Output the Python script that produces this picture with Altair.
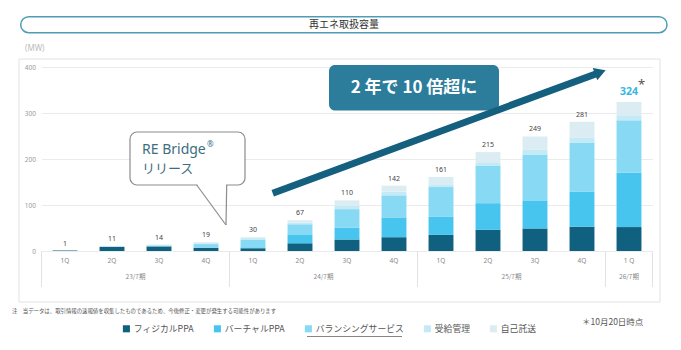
import altair as alt
import pandas as pd
import math

# ---------------- data ----------------
periods = ["23/7-1Q", "23/7-2Q", "23/7-3Q", "23/7-4Q",
           "24/7-1Q", "24/7-2Q", "24/7-3Q", "24/7-4Q",
           "25/7-1Q", "25/7-2Q", "25/7-3Q", "25/7-4Q",
           "26/7-1Q"]
quarter_labels = ["1Q", "2Q", "3Q", "4Q", "1Q", "2Q", "3Q", "4Q",
                  "1Q", "2Q", "3Q", "4Q", "1 Q"]
year_groups = ["23/7期", "24/7期", "25/7期", "26/7期"]
year_sizes = [4, 4, 4, 1]

series = ["フィジカルPPA", "バーチャルPPA", "バランシングサービス", "受給管理", "自己託送"]
colors = ["#10607f", "#47c5ee", "#87d9f4", "#c6eaf5", "#dbedf2"]

physical  = [1, 9, 10, 7, 6, 17, 25, 30, 35, 46, 49, 53, 52]
virtual   = [0, 0, 0, 0, 2, 18, 26, 43, 40, 58, 61, 76, 118]
balancing = [0, 1, 2, 8, 17, 23, 40, 48, 64, 82, 100, 107, 114]
juju      = [0, 0, 1, 2, 3, 4, 7, 8, 6, 7, 11, 11, 11]
selfcons  = [0, 1, 1, 2, 2, 5, 12, 13, 16, 22, 28, 34, 29]
totals    = [1, 11, 14, 19, 30, 67, 110, 142, 161, 215, 249, 281, 324]

# ---------------- layout ----------------
W, H = 611, 184
OX, OY = 41.5, 67
STEP = W / len(periods)
JP = "Noto Sans CJK JP"


def px(x):
    return x - OX


def py(y):
    return y - OY


rows = []
for vals, name, k in zip([physical, virtual, balancing, juju, selfcons], series, range(5)):
    for p, v in zip(periods, vals):
        rows.append({"period": p, "series": name, "order": k, "value": v})
df = pd.DataFrame(rows)
tot_df = pd.DataFrame({"period": periods, "total": totals})
q_df = pd.DataFrame({"period": periods, "q": quarter_labels})

xenc = alt.X("period:N", sort=periods,
             scale=alt.Scale(paddingInner=0.47, paddingOuter=0.235), axis=None)

one = alt.Chart(pd.DataFrame({"d": [0]}))


def rect(x1, y1, x2, y2, **kw):
    return one.mark_rect(**kw).encode(
        x=alt.value(px(x1)), x2=alt.value(px(x2)),
        y=alt.value(py(y1)), y2=alt.value(py(y2)))


def rule(x1, y1, x2, y2, **kw):
    return one.mark_rule(**kw).encode(
        x=alt.value(px(x1)), x2=alt.value(px(x2)),
        y=alt.value(py(y1)), y2=alt.value(py(y2)))


def text(t, x, y, **kw):
    return one.mark_text(**kw).encode(
        x=alt.value(px(x)), y=alt.value(py(y)), text=alt.value(t))


layers = []
# outer chart frame
layers.append(rect(19, 59, 660, 302, fillOpacity=0, stroke="#e2e2e2", strokeWidth=1))
# title box
layers.append(rect(20.7, 16.7, 667, 32.7, fill="white", stroke="#4f9cb6",
                   strokeWidth=1.5, cornerRadius=8))
layers.append(text("再エネ取扱容量", 344, 25, font=JP, fontSize=10, color="#333",
                   align="center", baseline="middle"))
layers.append(text("(MW)", 25, 49, font="Noto Sans", fontSize=8, color="#bbb",
                   align="left", baseline="middle"))

# bars
bars = alt.Chart(df).mark_bar().encode(
    x=xenc,
    y=alt.Y("value:Q", stack="zero",
            scale=alt.Scale(domain=[0, 400], nice=False),
            axis=alt.Axis(values=list(range(0, 401, 50)), labelFontSize=6.5,
                          labelColor="#9a9a9a", labelFont="Noto Sans",
                          domain=False, ticks=False, gridColor="#e6e6e6",
                          gridWidth=0.8, labelPadding=6, title=None)),
    color=alt.Color("series:N", sort=series,
                    scale=alt.Scale(domain=series, range=colors),
                    legend=alt.Legend(orient="none", legendX=px(122), legendY=py(324),
                                      direction="horizontal", title=None,
                                      symbolType="square", symbolSize=50,
                                      symbolStrokeWidth=0, labelFontSize=8.8,
                                      labelFont=JP, labelColor="#555",
                                      columnPadding=19, labelOffset=3)),
    order=alt.Order("order:Q", sort="ascending"),
)
layers.append(bars)

# value labels
lab = alt.Chart(tot_df).transform_filter(alt.datum.total < 300).mark_text(
    fontSize=7, color="#444", font="Noto Sans", baseline="middle", dy=-7
).encode(x=xenc, y=alt.Y("total:Q"), text="total:Q")
lab_last = alt.Chart(tot_df).transform_filter(alt.datum.total >= 300).mark_text(
    fontSize=10.5, color="#3ab6e2", font="Noto Sans", fontWeight="bold",
    baseline="middle", dy=-10
).encode(x=xenc, y=alt.Y("total:Q"), text="total:Q")
layers += [lab, lab_last]
layers.append(text("*", 641.5, 85, font="Noto Sans", fontSize=13, color="#555",
                   align="center", baseline="middle"))

# x "table" axis
qlab = alt.Chart(q_df).mark_text(fontSize=6.5, color="#888", font="Noto Sans",
                                 baseline="middle").encode(
    x=xenc, y=alt.value(py(260.7)), text="q:N")
layers.append(qlab)
start = 0
for g, n in zip(year_groups, year_sizes):
    cx = OX + STEP * (start + n / 2)
    layers.append(text(g, cx, 277, font=JP, fontSize=6.5, color="#888",
                       align="center", baseline="middle"))
    layers.append(rule(OX + STEP * start, 251, OX + STEP * start, 287,
                       color="#e2e2e2", strokeWidth=1))
    start += n
layers.append(rule(OX + STEP * start, 251, OX + STEP * start, 287,
                   color="#e2e2e2", strokeWidth=1))

# "2年で10倍超に" box
layers.append(rect(329, 65, 499, 110.5, fill="#2b7d9b", cornerRadius=6))
layers.append(text("2 年で 10 倍超に", 414, 88, font=JP, fontSize=17,
                   fontWeight="bold", color="white", align="center", baseline="middle"))

# arrow
x0, y0, x1, y1 = 272.7, 193.3, 605, 70.5
ang = math.degrees(math.atan2(y1 - y0, x1 - x0))
L = math.hypot(x1 - x0, y1 - y0)
ux, uy = (x1 - x0) / L, (y1 - y0) / L
layers.append(rule(x0, y0, x1 - 7 * ux, y1 - 7 * uy, color="#155f7f",
                   strokeWidth=7, strokeCap="butt"))
layers.append(one.mark_point(shape="triangle-right", filled=True, size=170,
                             color="#155f7f", opacity=1, angle=(ang + 360) % 360).encode(
    x=alt.value(px(x1 - 5 * ux)), y=alt.value(py(y1 - 5 * uy))))

# callout
layers.append(rect(130, 132, 245, 185, fill="white", stroke="#8c8c8c",
                   strokeWidth=1.2, cornerRadius=7))
layers.append(rule(197.6, 185, 226.2, 185, color="white", strokeWidth=2.4))
layers.append(rule(196.7, 185, 226, 225, color="#8c8c8c", strokeWidth=1.2))
layers.append(rule(226.7, 185, 226, 225, color="#8c8c8c", strokeWidth=1.2))
layers.append(text("RE Bridge", 142, 150, font="Noto Sans", fontSize=14,
                   color="#3d6e80", align="left", baseline="middle"))
layers.append(text("®", 207, 145, font="Noto Sans", fontSize=8,
                   color="#3d6e80", align="left", baseline="middle"))
layers.append(text("リリース", 142, 169, font=JP, fontSize=13,
                   color="#3d6e80", align="left", baseline="middle"))

# legend underline under バランシングサービス
layers.append(rule(307, 336.5, 402, 336.5, color="#666", strokeWidth=0.8))

# notes
layers.append(text("注　当データは、取引情報の速報値を収集したものであるため、今後修正・変更が発生する可能性があります",
                   12, 311, font=JP, fontSize=5.4, color="#555", align="left", baseline="middle"))
layers.append(text("＊10月20日時点", 582, 322, font=JP, fontSize=8.5, color="#555",
                   align="left", baseline="middle"))

chart = alt.layer(*layers).properties(
    width=W, height=H,
    autosize=alt.AutoSizeParams(type="none"),
    padding={"left": OX, "top": OY, "right": 681 - OX - W, "bottom": 350 - OY - H},
    background="white",
).configure_view(stroke=None)

chart.save("out.html", embed_options={"renderer": "svg", "actions": False})
